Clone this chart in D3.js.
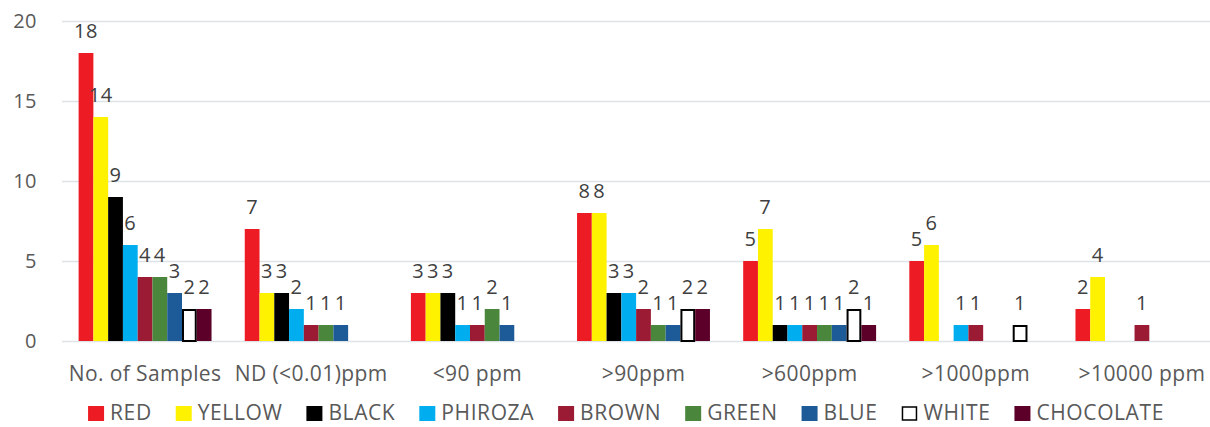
<!DOCTYPE html>
<html>
<head>
<meta charset="utf-8">
<script src="https://cdn.jsdelivr.net/npm/d3@7"></script>
<style>
  body { margin: 0; background: #fff; }
  svg { display: block; font-family: 'Open Sans', sans-serif; }
</style>
</head>
<body>
<svg id="chart" width="1210" height="427"></svg>
<script>
const categories = ['No. of Samples', 'ND (<0.01)ppm', '<90 ppm', '>90ppm', '>600ppm', '>1000ppm', '>10000 ppm'];

const seriesNames = ['RED', 'YELLOW', 'BLACK', 'PHIROZA', 'BROWN', 'GREEN', 'BLUE', 'WHITE', 'CHOCOLATE'];

const seriesColors = ['#ed1c24', '#fff200', '#000000', '#00aeef', '#9a1b33', '#4a873c', '#1d5a98', '#ffffff', '#5c0029'];

// one array per series, values per category
const red = [18, 7, 3, 8, 5, 5, 2];
const yellow = [14, 3, 3, 8, 7, 6, 4];
const black = [9, 3, 3, 3, 1, 0, 0];
const phiroza = [6, 2, 1, 3, 1, 1, 0];
const brown = [4, 1, 1, 2, 1, 1, 1];
const green = [4, 1, 2, 1, 1, 0, 0];
const blue = [3, 1, 1, 1, 1, 0, 0];
const white = [2, 0, 0, 2, 2, 1, 0];
const chocolate = [2, 0, 0, 2, 1, 0, 0];

const yTicks = [0, 5, 10, 15, 20];

const seriesValues = [red, yellow, black, phiroza, brown, green, blue, white, chocolate];

const svg = d3.select('#chart');

const x0 = d3
  .scaleBand()
  .domain(categories)
  .range([62, 1225])
  .paddingInner(0.2)
  .paddingOuter(0.1);

const x1 = d3
  .scaleBand()
  .domain(seriesNames)
  .range([0, x0.bandwidth()]);

const y = d3.scaleLinear().domain([0, 20]).range([341, 21]);

const color = d3.scaleOrdinal().domain(seriesNames).range(seriesColors);

// gridlines + y labels
const yAxis = svg.append('g').attr('transform', 'translate(62,0)');
yAxis
  .call(d3.axisLeft(y).tickValues(yTicks).tickSize(-1148).tickPadding(25))
  .call(g => g.select('.domain').remove())
  .call(g => g.selectAll('.tick line').attr('stroke', '#dde3e6').attr('stroke-width', 1.5))
  .call(g =>
    g
      .selectAll('.tick text')
      .attr('fill', '#595959')
      .style('font-size', '20px')
      .style('letter-spacing', '0.5px')
      .style('font-family', "'Open Sans', sans-serif")
  );

// bars (zero values are left out, as in the original)
const rows = [];
categories.forEach((cat, ci) => {
  seriesNames.forEach((s, si) => {
    const v = seriesValues[si][ci];
    if (v > 0) rows.push({ cat, s, v });
  });
});

const bars = svg.append('g');
bars
  .selectAll('rect')
  .data(rows)
  .join('rect')
  .attr('x', d => x0(d.cat) + x1(d.s) + (d.s === 'WHITE' ? 1 : 0))
  .attr('y', d => y(d.v) + (d.s === 'WHITE' ? 1 : 0))
  .attr('width', d => x1.bandwidth() - (d.s === 'WHITE' ? 2 : 0))
  .attr('height', d => y(0) - y(d.v) - (d.s === 'WHITE' ? 1 : 0))
  .attr('fill', d => color(d.s))
  .attr('stroke', d => (d.s === 'WHITE' ? '#000' : 'none'))
  .attr('stroke-width', 2);

// value labels
svg
  .append('g')
  .selectAll('text')
  .data(rows)
  .join('text')
  .attr('x', d => x0(d.cat) + x1(d.s) + x1.bandwidth() / 2)
  .attr('y', d => y(d.v) - 15)
  .attr('text-anchor', 'middle')
  .attr('fill', '#404040')
  .style('font-size', '20px')
  .style('letter-spacing', '0.5px')
  .text(d => d.v);

// category labels
svg
  .append('g')
  .selectAll('text')
  .data(categories)
  .join('text')
  .attr('x', d => x0(d) + x0.bandwidth() / 2)
  .attr('y', 381)
  .attr('text-anchor', 'middle')
  .attr('fill', '#595959')
  .style('font-size', '21px')
  .style('letter-spacing', '0.4px')
  .text(d => d);

// legend
const legend = svg.append('g');
const items = legend
  .selectAll('g')
  .data(seriesNames)
  .join('g');

items
  .append('text')
  .attr('x', 22)
  .attr('y', 420)
  .attr('fill', '#595959')
  .style('font-size', '21px')
  .style('letter-spacing', '0.6px')
  .text(d => d);

let offset = 0;
items.each(function(d) {
  const w = d3.select(this).select('text').node().getComputedTextLength();
  d3.select(this).attr('transform', `translate(${offset},0)`);
  offset += 22 + w + 24;
});
offset -= 24;

items
  .append('rect')
  .attr('x', d => (d === 'WHITE' ? 1 : 0))
  .attr('y', d => (d === 'WHITE' ? 407 : 406))
  .attr('width', d => (d === 'WHITE' ? 14 : 16))
  .attr('height', d => (d === 'WHITE' ? 13 : 15))
  .attr('fill', d => color(d))
  .attr('stroke', d => (d === 'WHITE' ? '#000' : 'none'))
  .attr('stroke-width', 1.5);

legend.attr('transform', `translate(${626 - offset / 2},0)`);
</script>
</body>
</html>
